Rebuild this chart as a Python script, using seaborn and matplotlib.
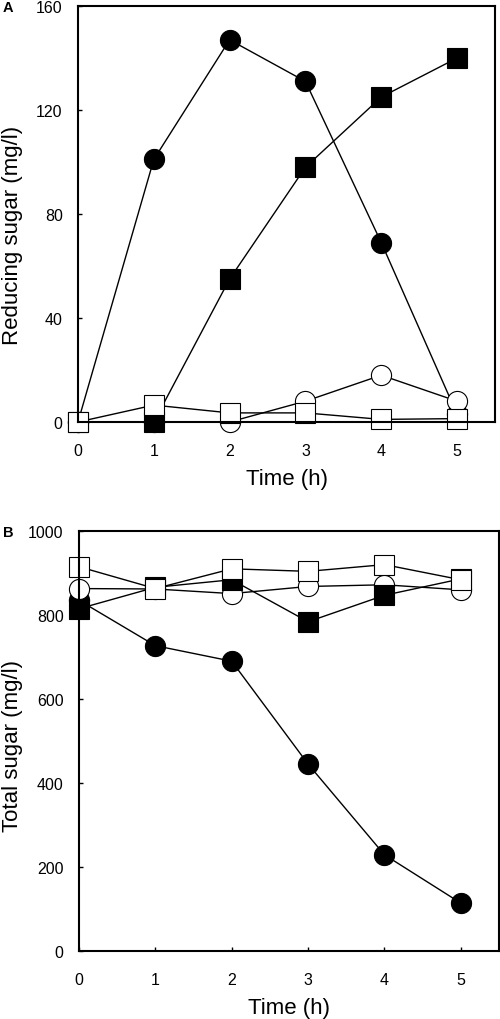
import numpy as np
import pandas as pd
import matplotlib
matplotlib.use("Agg")
import matplotlib.pyplot as plt
import seaborn as sns

# data
time_h = [0, 1, 2, 3, 4, 5]

# panel A: reducing sugar (mg/l)
red_filled_circle = [0, 101, 147, 131, 69, 3]
red_open_circle = [0, 0, 0, 8, 18, 8]
red_filled_square = [0, 0, 55, 98, 125, 140]
red_open_square = [0, 6.5, 3.5, 3.5, 1, 1.3]

# panel B: total sugar (mg/l)
tot_filled_circle = [835, 727, 690, 445, 229, 114]
tot_open_circle = [863, 862, 851, 868, 872, 860]
tot_filled_square = [815, 866, 884, 784, 847, 886]
tot_open_square = [915, 863, 910, 904, 920, 884]

sns.set_style("ticks")
plt.rcParams["font.family"] = ["Liberation Sans", "DejaVu Sans"]
plt.rcParams["text.color"] = "black"
plt.rcParams["axes.labelcolor"] = "black"
plt.rcParams["xtick.color"] = "black"
plt.rcParams["ytick.color"] = "black"
plt.rcParams["axes.edgecolor"] = "black"

fig = plt.figure(figsize=(5, 10.2), dpi=100)
axA = fig.add_axes([0.156, 0.5853, 0.834, 0.4078])
axB = fig.add_axes([0.158, 0.0667, 0.840, 0.4117])


def draw(ax, vals, marker, face, ms):
    sns.lineplot(x=time_h, y=vals, ax=ax, color="black", linewidth=1.0,
                 marker=marker, markersize=ms, markerfacecolor=face,
                 markeredgecolor="black", markeredgewidth=0.8, clip_on=False)


series_A = [(red_filled_circle, "o", "black", 14.5),
            (red_open_circle, "o", "white", 14.5),
            (red_filled_square, "s", "black", 14.5),
            (red_open_square, "s", "white", 14.5)]
series_B = [(tot_filled_circle, "o", "black", 14.5),
            (tot_open_circle, "o", "white", 14.5),
            (tot_filled_square, "s", "black", 14.5),
            (tot_open_square, "s", "white", 14.5)]

for ax, series, ymax, ystep, ylab, ly in [(axA, series_A, 160, 40, "Reducing sugar (mg/l)", 0.452),
                                          (axB, series_B, 1000, 200, "Total sugar (mg/l)", 0.49)]:
    for vals, m, face, ms in series:
        draw(ax, vals, m, face, ms)
    ax.set_xlim(0, 5.5)
    ax.set_ylim(0, ymax)
    ax.set_xticks(range(0, 6))
    ax.set_yticks(np.arange(0, ymax + 1, ystep))
    ax.tick_params(axis="x", direction="in", length=3, width=1, pad=15, labelsize=11.5)
    ax.tick_params(axis="y", direction="in", length=3, width=1, pad=11, labelsize=11.5)
    for sp in ax.spines.values():
        sp.set_linewidth(1.5)
        sp.set_visible(True)
    ax.set_xlabel("Time (h)", fontsize=16, labelpad=7)
    ax.set_ylabel(ylab, fontsize=16)
    ax.yaxis.set_label_coords(-0.133, ly)

fig.text(0.006, 1 - 8 / 1020, "A", fontsize=10.5, fontweight="bold", va="center")
fig.text(0.006, 1 - 533 / 1020, "B", fontsize=10.5, fontweight="bold", va="center")

fig.savefig("out.png", dpi=100)
